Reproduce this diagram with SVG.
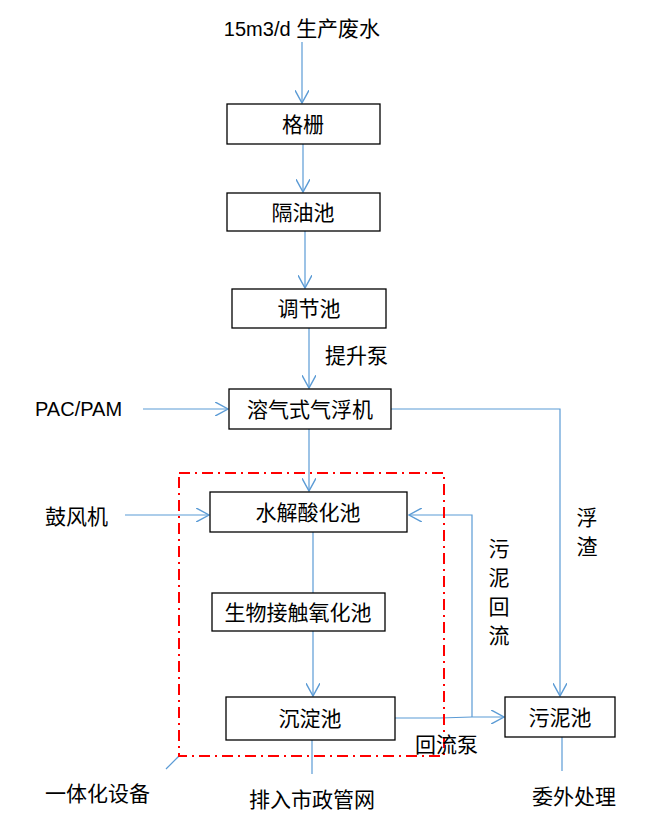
<svg xmlns="http://www.w3.org/2000/svg" width="656" height="838" viewBox="0 0 656 838">
<defs>
<style>
.box{fill:#fff;stroke:#000;stroke-width:1.3}
.t{font-family:"Liberation Sans","Noto Sans CJK SC",sans-serif;font-size:20px;fill:#000}
.c{font-family:"Noto Sans CJK SC",sans-serif;font-size:21px;fill:#000}
.ln{fill:none;stroke:#5B9BD5;stroke-width:1.2}
.red{fill:none;stroke:#FF0000;stroke-width:2;stroke-dasharray:11,5,2,5}
</style>
<marker id="ar" markerWidth="14" markerHeight="14" refX="11" refY="6" orient="auto" markerUnits="userSpaceOnUse" viewBox="0 0 12 12">
<path d="M0,0 L11,6 L0,12" fill="none" stroke="#5B9BD5" stroke-width="1.2"/>
</marker>
</defs>
<rect width="656" height="838" fill="#fff"/>
<g id="connectors">
<line class="ln" x1="302" y1="42" x2="302" y2="103" marker-end="url(#ar)"/>
<line class="ln" x1="303" y1="144" x2="303" y2="192" marker-end="url(#ar)"/>
<line class="ln" x1="305" y1="231" x2="305" y2="288" marker-end="url(#ar)"/>
<line class="ln" x1="309" y1="328" x2="309" y2="388" marker-end="url(#ar)"/>
<line class="ln" x1="143" y1="409" x2="228" y2="409" marker-end="url(#ar)"/>
<polyline class="ln" points="391,409 560,409 560,696" marker-end="url(#ar)"/>
<line class="ln" x1="309" y1="429" x2="309" y2="491" marker-end="url(#ar)"/>
<line class="ln" x1="125" y1="515" x2="209" y2="515" marker-end="url(#ar)"/>
<line class="ln" x1="313" y1="532" x2="313" y2="593"/>
<line class="ln" x1="313" y1="631" x2="313" y2="696" marker-end="url(#ar)"/>
<polyline class="ln" points="472,717 472,515 409,515" marker-end="url(#ar)"/>
<polyline class="ln" points="395,718 440,718 472,717 504,717" marker-end="url(#ar)"/>
<line class="ln" x1="312" y1="740" x2="312" y2="774"/>
<line class="ln" x1="562" y1="737" x2="562" y2="771"/>
<line class="ln" x1="179" y1="756" x2="166" y2="769"/>
</g>
<rect id="integrated-boundary" class="red" x="179" y="473" width="265" height="283"/>
<g id="source"><text class="t" x="302" y="36" text-anchor="middle">15m3/d <tspan style="font-family:'Noto Sans CJK SC',sans-serif;font-size:21px">生产废水</tspan></text></g>
<g id="grid"><rect class="box" x="227" y="104" width="153" height="40"/><text class="c" x="303" y="132" text-anchor="middle">格栅</text></g>
<g id="oil"><rect class="box" x="227" y="193" width="153" height="38"/><text class="c" x="303" y="220" text-anchor="middle">隔油池</text></g>
<g id="adjust"><rect class="box" x="232" y="289" width="154" height="39"/><text class="c" x="309" y="316" text-anchor="middle">调节池</text></g>
<g id="pump-label"><text class="c" x="325" y="363">提升泵</text></g>
<g id="daf"><rect class="box" x="229" y="389" width="162" height="40"/><text class="c" x="310" y="417" text-anchor="middle">溶气式气浮机</text></g>
<g id="pac"><text class="t" x="35" y="416">PAC/PAM</text></g>
<g id="scum"><text class="c" x="587" y="525" text-anchor="middle">浮</text><text class="c" x="587" y="554" text-anchor="middle">渣</text></g>
<g id="hydrolysis"><rect class="box" x="210" y="492" width="197" height="40"/><text class="c" x="308" y="520" text-anchor="middle">水解酸化池</text></g>
<g id="blower"><text class="c" x="45" y="524">鼓风机</text></g>
<g id="return-label"><text class="c" x="499" y="556" text-anchor="middle">污</text><text class="c" x="499" y="585" text-anchor="middle">泥</text><text class="c" x="499" y="614" text-anchor="middle">回</text><text class="c" x="499" y="643" text-anchor="middle">流</text></g>
<g id="contact"><rect class="box" x="212" y="593" width="173" height="38"/><text class="c" x="298" y="620" text-anchor="middle">生物接触氧化池</text></g>
<g id="settle"><rect class="box" x="226" y="697" width="169" height="43"/><text class="c" x="310" y="726" text-anchor="middle">沉淀池</text></g>
<g id="sludge"><rect class="box" x="505" y="697" width="110" height="40"/><text class="c" x="560" y="725" text-anchor="middle">污泥池</text></g>
<g id="return-pump"><text class="c" x="415" y="752">回流泵</text></g>
<g id="integrated"><text class="c" x="45" y="801">一体化设备</text></g>
<g id="discharge"><text class="c" x="312" y="807" text-anchor="middle">排入市政管网</text></g>
<g id="outsource"><text class="c" x="574" y="804" text-anchor="middle">委外处理</text></g>
</svg>
